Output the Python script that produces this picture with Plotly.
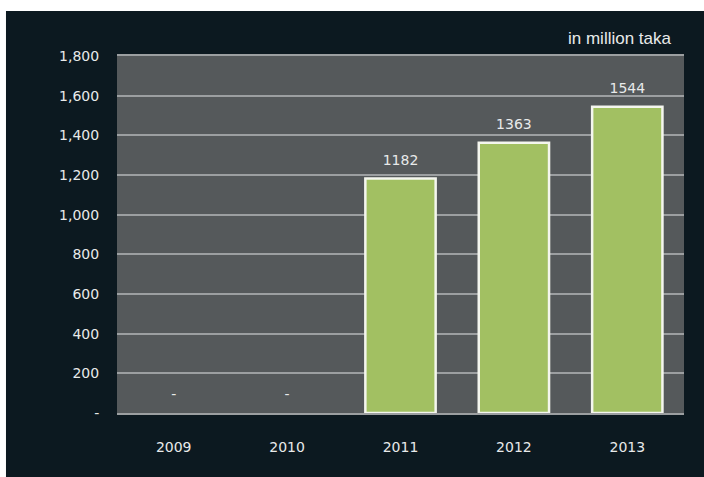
import plotly.graph_objects as go

years = ["2009", "2010", "2011", "2012", "2013"]
values = [0, 0, 1182, 1363, 1544]
labels = ["-", "-", "1182", "1363", "1544"]
ytick_vals = [0, 200, 400, 600, 800, 1000, 1200, 1400, 1600, 1800]
ytick_text = ["-", "200", "400", "600", "800", "1,000", "1,200", "1,400", "1,600", "1,800"]

PAPER = "#0c1920"
PLOT = "#55595b"
GRID = "#9c9fa1"
TXT = "#e8eaea"
FONT = "DejaVu Sans"

line_w = [2.5 if v > 0 else 0 for v in values]

fig = go.Figure()
fig.add_trace(go.Bar(
    x=years, y=values,
    marker=dict(color="#a2c062", line=dict(color="#f4f6ee", width=line_w)),
    hoverinfo="skip",
))
fig.add_trace(go.Scatter(
    x=years, y=values, mode="markers+text", text=labels, textposition="top center",
    marker=dict(size=15, color="rgba(0,0,0,0)"),
    textfont=dict(family=FONT, size=14, color=TXT), hoverinfo="skip", cliponaxis=False,
))

fig.add_annotation(xref="paper", yref="paper", x=1.0, y=1.0, xanchor="right", yanchor="bottom",
                   text="in million taka", showarrow=False, yshift=6, xshift=-10,
                   font=dict(family="Liberation Sans", size=17, color=TXT))

# white edges of the scanned page
fig.add_shape(type="rect", xref="paper", yref="paper", x0=-0.3, x1=1.1, y0=1.126, y1=1.3,
              fillcolor="white", line=dict(width=0), layer="above")
fig.add_shape(type="rect", xref="paper", yref="paper", x0=-0.3, x1=-0.1958, y0=-0.3, y1=1.3,
              fillcolor="white", line=dict(width=0), layer="above")

fig.update_layout(
    width=704, height=477,
    margin=dict(l=117, r=20, t=56, b=64),
    paper_bgcolor=PAPER, plot_bgcolor=PLOT,
    showlegend=False,
    bargap=0.38,
    font=dict(family=FONT, color=TXT, size=14),
)
fig.update_xaxes(type="category", range=[-0.5, 4.5], showgrid=False, zeroline=False,
                 showline=True, mirror=True, linecolor=GRID, linewidth=2,
                 ticks="outside", ticklen=20, tickcolor="rgba(0,0,0,0)",
                 tickfont=dict(family=FONT, size=14, color=TXT))
fig.update_yaxes(range=[0, 1800], tickvals=ytick_vals, ticktext=ytick_text,
                 showgrid=True, gridcolor=GRID, gridwidth=2, zeroline=False, showline=False,
                 ticks="outside", ticklen=14, tickcolor="rgba(0,0,0,0)",
                 tickfont=dict(family=FONT, size=14, color=TXT))

fig.write_html("out.html")
